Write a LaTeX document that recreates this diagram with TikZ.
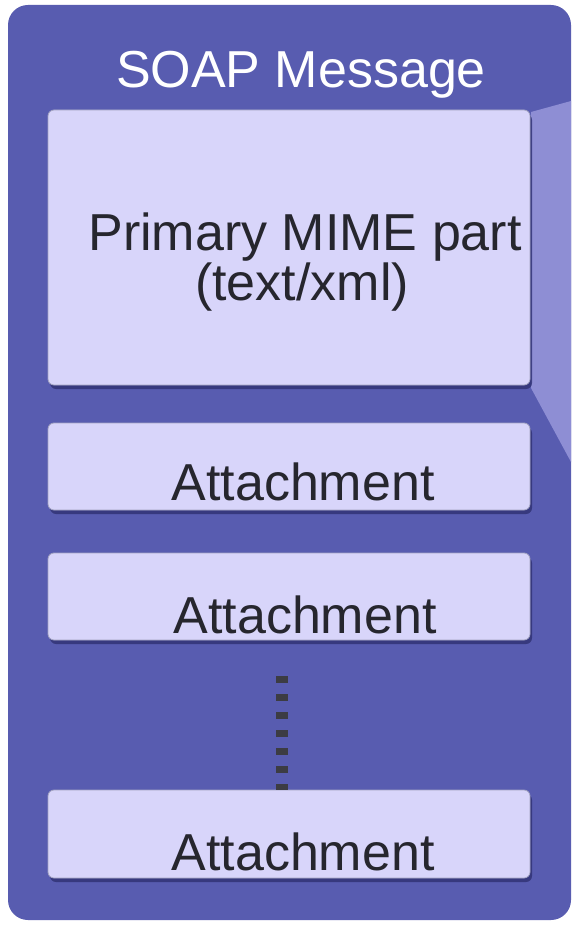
\documentclass[tikz,border=0pt]{standalone}
\usepackage{fontspec}
\setmainfont{Liberation Sans}
\usetikzlibrary{positioning,shadows}
\definecolor{msgblue}{RGB}{88,92,176}
\definecolor{partfill}{RGB}{216,213,250}
\definecolor{partshade}{RGB}{50,52,118}
\definecolor{foldblue}{RGB}{142,142,212}
\definecolor{inktext}{RGB}{38,38,46}

\tikzset{
  part/.style={draw=partshade!45, line width=0.8pt, fill=partfill, rounded corners=6pt,
    minimum width=482pt, inner sep=0pt,
    drop shadow={shadow xshift=2pt, shadow yshift=-4pt, fill=partshade, opacity=0.85}},
  partlabel/.style={font=\fontsize{52}{60}\selectfont, text=inktext, anchor=base},
  dotsline/.style={draw=inktext!90, line width=12pt, dash pattern=on 7pt off 11pt},
}

\begin{document}
\begin{tikzpicture}[x=1pt,y=-1pt]
  \useasboundingbox (0,0) rectangle (573,925);
  \fill[white] (0,0) rectangle (573,925);

  % the message envelope
  \fill[msgblue, rounded corners=20pt] (8,5) rectangle (571,920);
  \fill[foldblue] (531,112) -- (571,101) -- (571,462) -- (531,388) -- cycle;
  \node[font=\fontsize{52}{60}\selectfont, text=white, anchor=base] (title) at (301,88) {SOAP Message};

  % parts
  \node[part, minimum height=275pt] (primary) at (289,247.5) {};
  \node[part, minimum height=87pt] (att1) at (289,466.5) {};
  \node[part, minimum height=87pt] (att2) at (289,596.5) {};
  \node[part, minimum height=88pt] (att3) at (289,834) {};

  \node[partlabel] (primarytxt) at (305,250) {Primary MIME part};
  \node[partlabel] (primarytype) at (302,300) {(text/xml)};
  \node[partlabel] (att1txt) at (303,500) {Attachment};
  \node[partlabel] (att2txt) at (305,633) {Attachment};
  \node[partlabel] (att3txt) at (303,870) {Attachment};

  % more attachments
  \draw[dotsline, shorten <=36pt] ([xshift=-7pt]att2.south) -- ([xshift=-7pt]att3.north);
\end{tikzpicture}
\end{document}
